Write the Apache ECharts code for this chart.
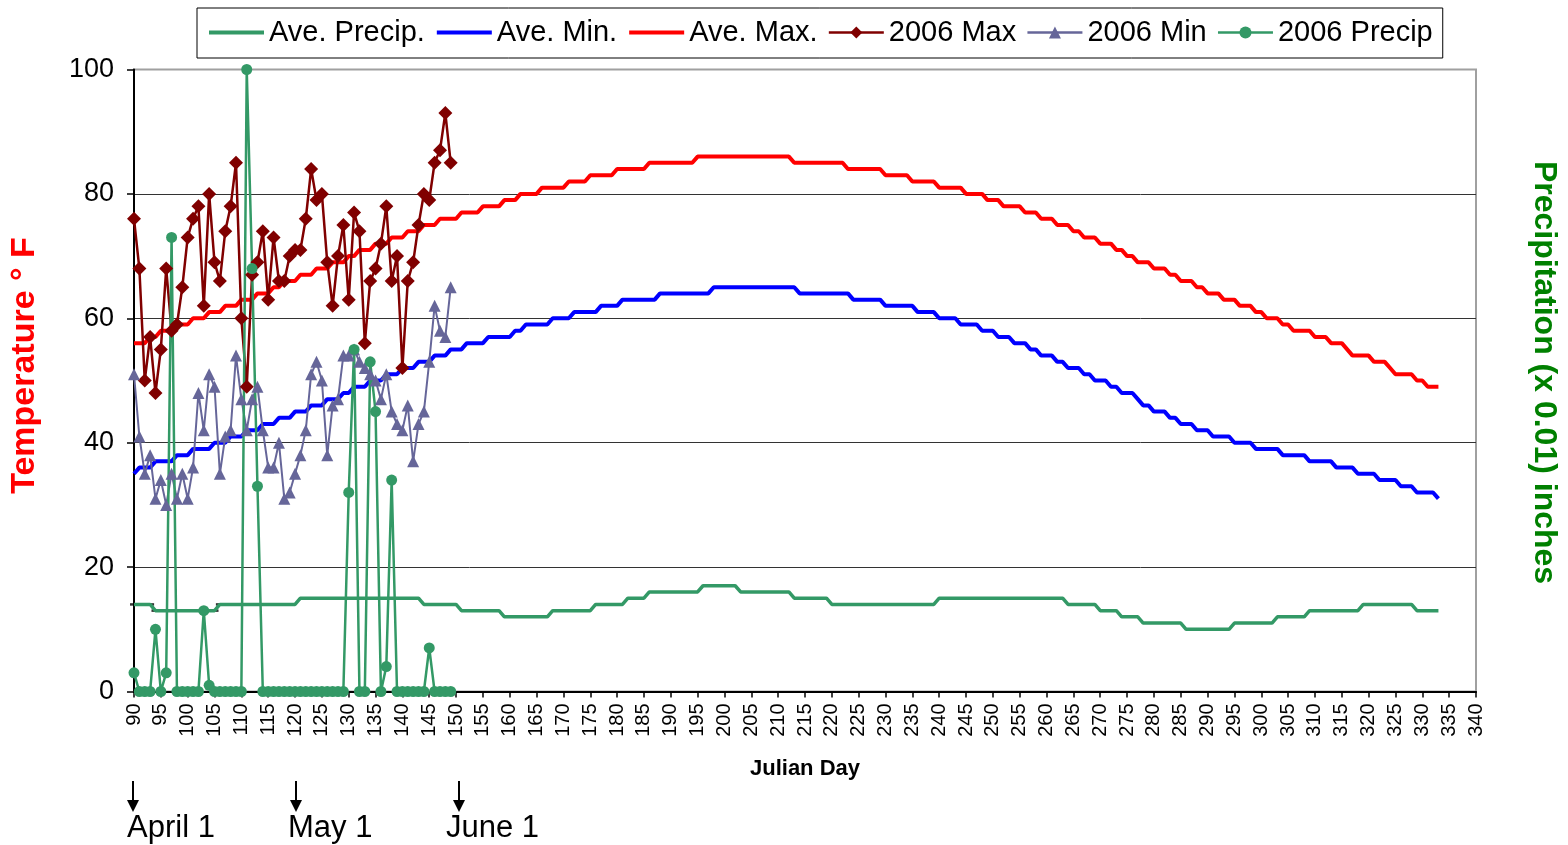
<!DOCTYPE html>
<html>
<head>
<meta charset="utf-8">
<title>Julian Day temperature and precipitation</title>
<script src="https://cdn.jsdelivr.net/npm/echarts/dist/echarts.min.js"></script>
<style>
  html, body { margin: 0; padding: 0; background: #fff; }
  #chart { width: 1568px; height: 845px; }
</style>
</head>
<body>
<div id="chart"></div>
<script>
// x axis ticks (Julian day)
var dayMin = 90, dayMax = 340, dayStep = 5;
var tempTicks = [0, 20, 40, 60, 80, 100];

// long-term averages, read as steps: [first day, last day, value]
var aveMaxRuns = [
    [90, 92, 56], [93, 94, 57], [95, 97, 58], [98, 100, 59], [101, 103, 60], [104, 106, 61],
    [107, 109, 62], [110, 112, 63], [113, 115, 64], [116, 117, 65], [118, 120, 66], [121, 123, 67],
    [124, 126, 68], [127, 129, 69], [130, 131, 70], [132, 134, 71], [135, 137, 72], [138, 140, 73],
    [141, 143, 74], [144, 146, 75], [147, 150, 76], [151, 154, 77], [155, 158, 78], [159, 161, 79],
    [162, 165, 80], [166, 170, 81], [171, 174, 82], [175, 179, 83], [180, 185, 84], [186, 194, 85],
    [195, 212, 86], [213, 222, 85], [223, 229, 84], [230, 234, 83], [235, 239, 82], [240, 244, 81],
    [245, 248, 80], [249, 251, 79], [252, 255, 78], [256, 258, 77], [259, 261, 76], [262, 264, 75],
    [265, 266, 74], [267, 269, 73], [270, 272, 72], [273, 274, 71], [275, 276, 70], [277, 279, 69],
    [280, 282, 68], [283, 284, 67], [285, 287, 66], [288, 289, 65], [290, 292, 64], [293, 295, 63],
    [296, 298, 62], [299, 300, 61], [301, 303, 60], [304, 305, 59], [306, 309, 58], [310, 312, 57],
    [313, 315, 56], [316, 316, 55], [317, 320, 54], [321, 323, 53], [324, 324, 52], [325, 328, 51],
    [329, 330, 50], [331, 333, 49]
];
var aveMinRuns = [
    [90, 90, 35], [91, 93, 36], [94, 97, 37], [98, 100, 38], [101, 104, 39], [105, 107, 40],
    [108, 110, 41], [111, 113, 42], [114, 116, 43], [117, 119, 44], [120, 122, 45], [123, 125, 46],
    [126, 128, 47], [129, 130, 48], [131, 133, 49], [134, 136, 50], [137, 139, 51], [140, 142, 52],
    [143, 145, 53], [146, 148, 54], [149, 151, 55], [152, 155, 56], [156, 160, 57], [161, 162, 58],
    [163, 167, 59], [168, 171, 60], [172, 176, 61], [177, 180, 62], [181, 187, 63], [188, 197, 64],
    [198, 213, 65], [214, 223, 64], [224, 229, 63], [230, 235, 62], [236, 239, 61], [240, 243, 60],
    [244, 247, 59], [248, 250, 58], [251, 253, 57], [254, 256, 56], [257, 258, 55], [259, 261, 54],
    [262, 263, 53], [264, 266, 52], [267, 268, 51], [269, 271, 50], [272, 273, 49], [274, 276, 48],
    [277, 277, 47], [278, 279, 46], [280, 282, 45], [283, 284, 44], [285, 287, 43], [288, 290, 42],
    [291, 294, 41], [295, 298, 40], [299, 303, 39], [304, 308, 38], [309, 313, 37], [314, 317, 36],
    [318, 321, 35], [322, 325, 34], [326, 328, 33], [329, 332, 32], [333, 333, 31]
];
var avePrecipRuns = [
    [90, 93, 14], [94, 105, 13], [106, 120, 14], [121, 143, 15], [144, 150, 14], [151, 158, 13],
    [159, 167, 12], [168, 175, 13], [176, 181, 14], [182, 185, 15], [186, 195, 16], [196, 202, 17],
    [203, 212, 16], [213, 219, 15], [220, 239, 14], [240, 263, 15], [264, 269, 14], [270, 273, 13],
    [274, 277, 12], [278, 285, 11], [286, 294, 10], [295, 302, 11], [303, 308, 12], [309, 318, 13],
    [319, 328, 14], [329, 333, 13]
];
var dashMarkLastDay = 117;   // short black dash marks over the early Ave. Precip.

// 2006 daily observations, from day 90
var firstDay2006 = 90;
var max2006 = [76, 68, 50, 57, 48, 55, 68, 58, 59, 65, 73, 76, 78, 62, 80, 69, 66, 74, 78, 85,
    60, 49, 67, 69, 74, 63, 73, 66, 66, 70, 71, 71, 76, 84, 79, 80, 69, 62, 70, 75,
    63, 77, 74, 56, 66, 68, 72, 78, 66, 70, 52, 66, 69, 75, 80, 79, 85, 87, 93, 85];
var min2006 = [51, 41, 35, 38, 31, 34, 30, 35, 31, 35, 31, 36, 48, 42, 51, 49, 35, 41, 42, 54,
    47, 42, 47, 49, 42, 36, 36, 40, 31, 32, 35, 38, 42, 51, 53, 50, 38, 46, 47, 54,
    54, 55, 53, 52, 51, 50, 47, 51, 45, 43, 42, 46, 37, 43, 45, 53, 62, 58, 57, 65];
var precip2006 = [3, 0, 0, 0, 10, 0, 3, 73, 0, 0, 0, 0, 0, 13, 1, 0, 0, 0, 0, 0,
    0, 100, 68, 33, 0, 0, 0, 0, 0, 0, 0, 0, 0, 0, 0, 0, 0, 0, 0, 0,
    32, 55, 0, 0, 53, 45, 0, 4, 34, 0, 0, 0, 0, 0, 0, 7, 0, 0, 0, 0];

var seriesNames = ['Ave. Precip.', 'Ave. Min.', 'Ave. Max.', '2006 Max', '2006 Min', '2006 Precip'];
var monthMarks = [
    { x: 133, textX: 127, text: 'April 1' },
    { x: 296, textX: 288, text: 'May 1' },
    { x: 459, textX: 446, text: 'June 1' }
];

var FONT = '"Liberation Sans", Arial, sans-serif';

function runsToPoints(runs) {
    var out = [];
    runs.forEach(function (r) {
        for (var d = r[0]; d <= r[1]; d++) out.push([d, r[2]]);
    });
    return out;
}
function daily(values) {
    return values.map(function (v, i) { return [firstDay2006 + i, v]; });
}

var avePrecipPts = runsToPoints(avePrecipRuns);
var dashPts = avePrecipPts.filter(function (p) { return p[0] <= dashMarkLastDay; });

var chart = echarts.init(document.getElementById('chart'), null, { renderer: 'canvas' });

var graphics = [];
monthMarks.forEach(function (m) {
    graphics.push({
        type: 'line', shape: { x1: m.x, y1: 781, x2: m.x, y2: 803 },
        style: { stroke: '#000', lineWidth: 2 }
    });
    graphics.push({
        type: 'polygon', shape: { points: [[m.x - 6, 800], [m.x + 6, 800], [m.x, 812]] },
        style: { fill: '#000' }
    });
    graphics.push({
        type: 'text', x: m.textX, y: 828,
        style: { text: m.text, font: '31px ' + FONT, fill: '#000', textVerticalAlign: 'middle' }
    });
});

// legend: plain thick line icons for the averages, line + marker for 2006
var legendData = seriesNames.map(function (n) {
    if (n.indexOf('Ave.') === 0) return { name: n, itemStyle: { opacity: 0 }, lineStyle: { width: 4 } };
    return { name: n, lineStyle: { width: 2.5 } };
});

var option = {
    animation: false,
    backgroundColor: '#fff',
    textStyle: { fontFamily: FONT },
    grid: {
        left: 133, right: 90, top: 69.5, bottom: 153.5,
        show: true, borderColor: '#a0a0a0', borderWidth: 2, backgroundColor: '#fff'
    },
    legend: {
        data: legendData,
        left: 197, top: 8, width: 1244,
        padding: [10, 10, 11, 10],
        itemGap: 10, itemWidth: 55, itemHeight: 15,
        borderColor: '#000', borderWidth: 1, backgroundColor: '#fff',
        selectedMode: false,
        textStyle: { fontSize: 29, color: '#000', fontFamily: FONT }
    },
    xAxis: {
        type: 'value', min: dayMin, max: dayMax, interval: dayStep,
        name: 'Julian Day', nameLocation: 'middle', nameGap: 66,
        nameTextStyle: { fontSize: 22, fontWeight: 'bold', color: '#000' },
        axisLine: { onZero: false, lineStyle: { color: '#000', width: 2 } },
        axisTick: { length: 6, lineStyle: { color: '#000', width: 1.5 } },
        axisLabel: { rotate: 90, fontSize: 20, color: '#000', margin: 12 },
        splitLine: { show: false }
    },
    yAxis: [{
        type: 'value', min: tempTicks[0], max: tempTicks[tempTicks.length - 1], interval: 20,
        name: 'Temperature ° F', nameLocation: 'middle', nameGap: 92, nameRotate: 90,
        nameTextStyle: { fontSize: 34, fontWeight: 'bold', color: '#ff0000', padding: [0, 0, 0, 30] },
        axisLine: { show: true, lineStyle: { color: '#000', width: 2 } },
        axisTick: { show: true, length: 7, lineStyle: { color: '#000', width: 1.5 } },
        axisLabel: { fontSize: 27, color: '#000', margin: 20 },
        splitLine: { lineStyle: { color: ['#000', '#333', '#333', '#333', '#333', '#a0a0a0'], width: 1 } }
    }, {
        type: 'value', min: 0, max: 100, interval: 20,
        name: 'Precipitation (x 0.01) inches', nameLocation: 'middle', nameGap: 52, nameRotate: -90,
        nameTextStyle: { fontSize: 32, fontWeight: 'bold', color: '#008000', padding: [0, 16, 0, 0] },
        axisLine: { show: false }, axisTick: { show: false }, axisLabel: { show: false },
        splitLine: { show: false }
    }],
    series: [{
        name: 'Ave. Precip.', type: 'line', yAxisIndex: 1, symbol: 'none',
        data: avePrecipPts, lineStyle: { color: '#339966', width: 3.5 }, itemStyle: { color: '#339966' }
    }, {
        name: 'dash', type: 'scatter', yAxisIndex: 1, symbol: 'rect', symbolSize: [8, 2.5],
        data: dashPts, itemStyle: { color: '#000' }, silent: true
    }, {
        name: 'Ave. Min.', type: 'line', symbol: 'none',
        data: runsToPoints(aveMinRuns), lineStyle: { color: '#0000ff', width: 4 }, itemStyle: { color: '#0000ff' }
    }, {
        name: 'Ave. Max.', type: 'line', symbol: 'none',
        data: runsToPoints(aveMaxRuns), lineStyle: { color: '#ff0000', width: 4 }, itemStyle: { color: '#ff0000' }
    }, {
        name: '2006 Max', type: 'line', symbol: 'diamond', symbolSize: 14, showAllSymbol: true,
        data: daily(max2006), lineStyle: { color: '#800000', width: 2.5 }, itemStyle: { color: '#800000' }
    }, {
        name: '2006 Min', type: 'line', symbol: 'triangle', symbolSize: 12, showAllSymbol: true,
        data: daily(min2006), lineStyle: { color: '#666699', width: 2 }, itemStyle: { color: '#666699' }
    }, {
        name: '2006 Precip', type: 'line', yAxisIndex: 1, symbol: 'circle', symbolSize: 11, showAllSymbol: true,
        data: daily(precip2006), lineStyle: { color: '#339966', width: 2.5 }, itemStyle: { color: '#339966' }
    }],
    graphic: graphics
};
chart.setOption(option);
</script>
</body>
</html>
